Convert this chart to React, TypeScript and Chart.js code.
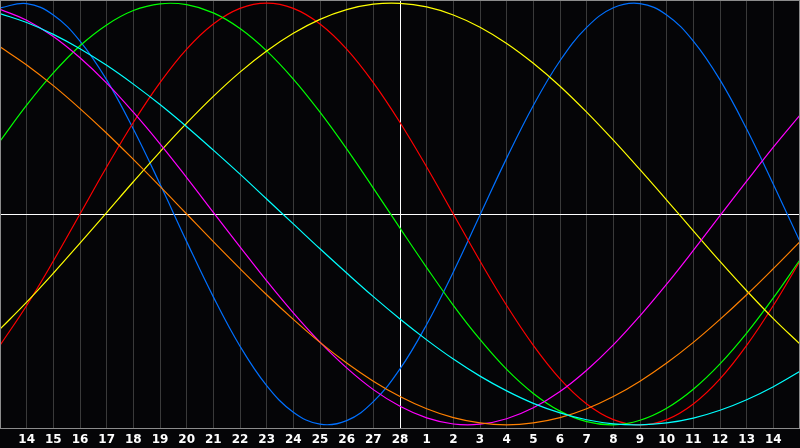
import { useEffect, useRef } from 'react';
import { Chart, ChartConfiguration, registerables } from 'chart.js';

Chart.register(...registerables);

// x positions are day indices 0..30; labels shown for 1..29
const dayLabels = [
  '', '14', '15', '16', '17', '18', '19', '20', '21', '22', '23', '24', '25', '26', '27', '28',
  '1', '2', '3', '4', '5', '6', '7', '8', '9', '10', '11', '12', '13', '14', '',
];

const physical = [
  0.978, 0.998, 0.944, 0.82, 0.636, 0.403, 0.142, -0.131, -0.393, -0.627, -0.814, -0.94, -0.997, -0.98, -0.89, -0.735,
  -0.524, -0.275, -0.005, 0.265, 0.515, 0.727, 0.885, 0.978, 0.998, 0.944, 0.82, 0.636, 0.403, 0.141, -0.131,
];
const emotional = [
  -0.623, -0.434, -0.223, 0.0, 0.223, 0.434, 0.623, 0.782, 0.901, 0.975, 1.0, 0.975, 0.901, 0.782, 0.623, 0.434,
  0.223, 0.0, -0.223, -0.434, -0.623, -0.782, -0.901, -0.975, -1.0, -0.975, -0.901, -0.782, -0.623, -0.434, -0.223,
];
const intellectual = [
  0.345, 0.516, 0.669, 0.798, 0.897, 0.965, 0.997, 0.993, 0.954, 0.88, 0.774, 0.64, 0.483, 0.309, 0.123, -0.067,
  -0.254, -0.433, -0.595, -0.737, -0.851, -0.935, -0.985, -1.0, -0.978, -0.921, -0.831, -0.711, -0.565, -0.398, -0.217,
];
const intuitive = [
  0.971, 0.919, 0.842, 0.741, 0.621, 0.483, 0.333, 0.173, 0.008, -0.156, -0.317, -0.469, -0.608, -0.73, -0.833, -0.912,
  -0.967, -0.996, -0.997, -0.971, -0.919, -0.842, -0.741, -0.621, -0.483, -0.333, -0.173, -0.008, 0.156, 0.317, 0.469,
];
const aesthetic = [
  -0.546, -0.418, -0.281, -0.138, 0.007, 0.153, 0.295, 0.431, 0.558, 0.673, 0.773, 0.857, 0.923, 0.969, 0.995, 0.999,
  0.982, 0.944, 0.886, 0.809, 0.715, 0.606, 0.483, 0.35, 0.21, 0.066, -0.08, -0.225, -0.364, -0.496, -0.617,
];
const awareness = [
  0.793, 0.707, 0.609, 0.5, 0.383, 0.259, 0.131, 0.0, -0.131, -0.259, -0.383, -0.5, -0.609, -0.707, -0.793, -0.866,
  -0.924, -0.966, -0.991, -1.0, -0.991, -0.966, -0.924, -0.866, -0.793, -0.707, -0.609, -0.5, -0.383, -0.259, -0.131,
];
const spiritual = [
  0.951, 0.908, 0.852, 0.784, 0.705, 0.616, 0.519, 0.414, 0.303, 0.189, 0.071, -0.047, -0.165, -0.28, -0.392, -0.498,
  -0.597, -0.688, -0.769, -0.839, -0.898, -0.943, -0.976, -0.995, -1.0, -0.991, -0.968, -0.931, -0.881, -0.819, -0.746,
];

const series = [
  { name: 'Spiritual', data: spiritual, color: '#00ffff' },
  { name: 'Awareness', data: awareness, color: '#ff8000' },
  { name: 'Intuitive', data: intuitive, color: '#ff00ff' },
  { name: 'Aesthetic', data: aesthetic, color: '#ffff00' },
  { name: 'Intellectual', data: intellectual, color: '#00ff00' },
  { name: 'Emotional', data: emotional, color: '#ff0000' },
  { name: 'Physical', data: physical, color: '#0070ff' },
];

const TODAY_INDEX = 15;

// frame around the plot area
const framePlugin = {
  id: 'frame',
  afterDraw(chart: Chart) {
    const { ctx, chartArea } = chart;
    ctx.save();
    ctx.strokeStyle = '#8c8c8c';
    ctx.lineWidth = 1;
    ctx.strokeRect(chartArea.left + 0.5, chartArea.top + 0.5, chartArea.right - chartArea.left - 1, chartArea.bottom - chartArea.top);
    ctx.restore();
  },
};

export default function App() {
  const canvasRef = useRef<HTMLCanvasElement>(null);

  useEffect(() => {
    document.body.style.margin = '0';
    document.body.style.background = '#050507';
    if (!canvasRef.current) return;

    const config: ChartConfiguration = {
      type: 'line',
      data: {
        labels: dayLabels,
        datasets: series.map(s => ({
          label: s.name,
          data: s.data,
          borderColor: s.color,
          borderWidth: 1.2,
          pointRadius: 0,
          tension: 0.4,
          fill: false,
        })),
      },
      options: {
        animation: false,
        responsive: true,
        maintainAspectRatio: false,
        layout: { padding: 0 },
        plugins: {
          legend: { display: false },
          tooltip: { enabled: false },
        },
        scales: {
          x: {
            type: 'category',
            offset: false,
            afterFit: scale => {
              scale.height = 20;
            },
            grid: {
              drawTicks: true,
              tickLength: 5,
              tickColor: 'transparent',
              color: ctx => (ctx.index === TODAY_INDEX ? '#ffffff' : '#3a3a3a'),
            },
            border: { display: false },
            ticks: {
              autoSkip: false,
              maxRotation: 0,
              padding: 0,
              color: '#ffffff',
              font: { family: 'DejaVu Sans', size: 12, weight: 'bold' },
            },
          },
          y: {
            min: -1.015,
            max: 1.015,
            afterFit: scale => {
              scale.width = 0;
            },
            afterBuildTicks: scale => {
              scale.ticks = [{ value: 0 }];
            },
            grid: { drawTicks: false, color: '#ffffff' },
            border: { display: false },
            ticks: { display: false },
          },
        },
      },
      plugins: [framePlugin],
    };

    const chart = new Chart(canvasRef.current, config);
    return () => chart.destroy();
  }, []);

  return (
    <div style={{ width: 800, height: 448, background: '#050507' }}>
      <canvas ref={canvasRef}></canvas>
    </div>
  );
}
